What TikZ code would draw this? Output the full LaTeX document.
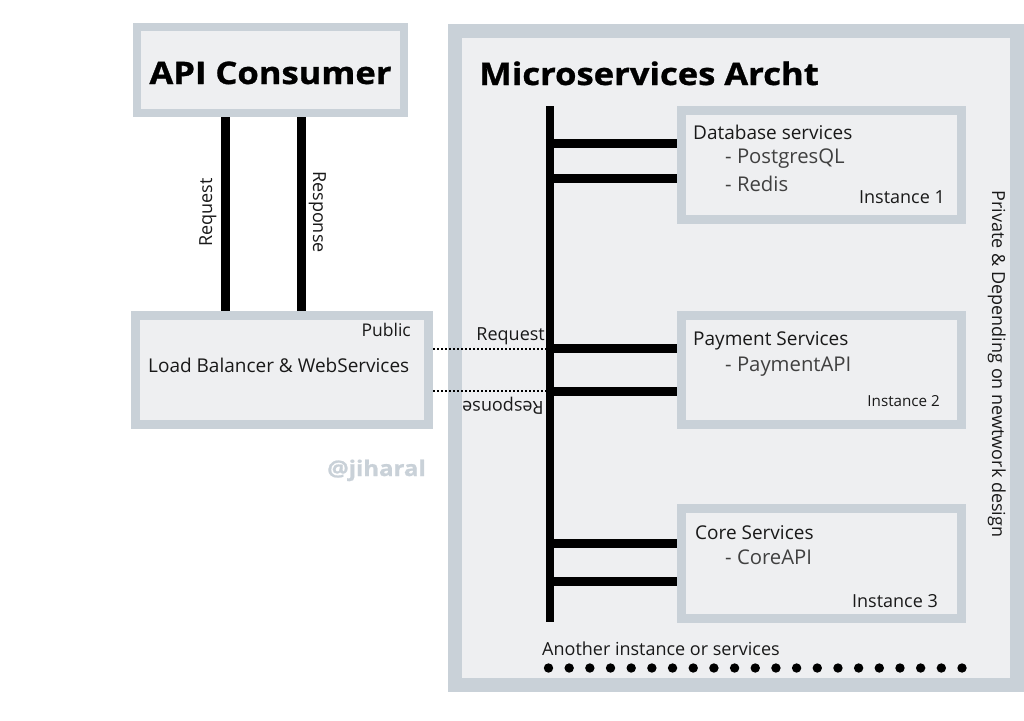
\documentclass[tikz,border=0pt]{standalone}
\usepackage{fontspec}
\setmainfont{Open Sans}
\newfontfamily\heavyfont[FakeStretch=1.115, FakeBold=1]{Open Sans}
\usetikzlibrary{calc}
\definecolor{boxedge}{RGB}{201,209,216}
\definecolor{boxfill}{RGB}{238,239,241}
\tikzset{
	box/.style={draw=boxedge, fill=boxfill, line width=9pt, inner sep=0pt, minimum width=280pt, minimum height=109pt},
	bar/.style={line width=9pt, color=black},
	wire/.style={line width=2pt, dash pattern=on 2pt off 2pt},
	ttl/.style={font=\fontsize{31}{31}\heavyfont\bfseries, inner sep=0pt},
	lbl/.style={font=\fontsize{18}{18}\selectfont, inner sep=0pt, text=black!90},
	head/.style={lbl, font=\fontsize{19}{19}\selectfont},
	item/.style={font=\fontsize{20.3}{20.3}\selectfont, inner sep=0pt, text=black!75},
}

\begin{document}
\begin{tikzpicture}[x=1pt, y=-1pt]
			%%%%% START %%%%%
			\useasboundingbox (0, 0) rectangle (1024, 720);
			
			\node[box, line width=14pt, minimum width=562pt, minimum height=654pt] (micro) at (736, 358) {};
			\node[box, line width=8pt, minimum width=267pt, minimum height=86pt] (consumer) at (270.5, 70) {};
			\node[box, minimum width=293pt] (lb) at (282, 370) {};
			
			\node[box] (db) at (821.5, 165) {};
			\node[box] (pay) at (821.5, 370) {};
			\node[box, minimum height=110pt] (core) at (821.5, 563.5) {};
			
			% titles
			\node[ttl, anchor=base] (consumerTtl) at (270.5, 84) {API Consumer};
			\node[ttl, anchor=base west] (microTtl) at (479, 85) {Microservices Archt};
			
			% consumer <-> load balancer
			\coordinate (req) at (225.5, 117);
			\coordinate (res) at (301.5, 117);
			\draw[bar] (req) -- (req |- lb.north);
			\draw[bar] (res) -- (res |- lb.north);
			\node[lbl, rotate=90, anchor=base] (reqTxt) at (212, 212.5) {Request};
			\node[lbl, rotate=-90, anchor=base] (resTxt) at (313, 212) {Response};
			
			\node[lbl, font=\fontsize{17.5}{17.5}\selectfont, anchor=base east] (pubTxt) at (411, 336.7) {Public};
			\node[head, anchor=base west] (lbTxt) at (148, 372.7) {Load Balancer \& WebServices};
			\node[font=\fontsize{21.5}{21.5}\heavyfont\bfseries, text=boxedge, inner sep=0pt, anchor=base] (sign) at (376.5, 476) {@jiharal};
			
			% bus
			\coordinate (busTop) at (550, 106);
			\coordinate (busBot) at (550, 622);
			\draw[line width=8pt] (busTop) -- (busBot);
			
			\coordinate (q) at (550, 349);
			\coordinate (r) at (550, 391);
			\draw[wire] (q -| lb.east) -- (q);
			\draw[wire] (r -| lb.east) -- (r);
			\node[lbl, anchor=base east] (qTxt) at (545, 340) {Request};
			\node[lbl, rotate=180, anchor=base] (rTxt) at (503, 401) {Response};
			
			% bus -> services
			\coordinate (b1) at (550, 143);
			\coordinate (b2) at (550, 178);
			\coordinate (b3) at (550, 348);
			\coordinate (b4) at (550, 391);
			\coordinate (b5) at (550, 543);
			\coordinate (b6) at (550, 581);
			\draw[bar] (b1) -- (b1 -| db.west);
			\draw[bar] (b2) -- (b2 -| db.west);
			\draw[bar] (b3) -- (b3 -| pay.west);
			\draw[bar] (b4) -- (b4 -| pay.west);
			\draw[bar] (b5) -- (b5 -| core.west);
			\draw[bar] (b6) -- (b6 -| core.west);
			
			\node[head, anchor=base west] (dbTxt) at (693, 139.3) {Database services};
			\node[item, anchor=base west] (dbA) at (725, 163.3) {- PostgresQL};
			\node[item, anchor=base west] (dbB) at (725, 191.7) {- Redis};
			\node[lbl, anchor=base east] (dbInst) at (945, 203.3) {Instance 1};
			
			\node[head, anchor=base west] (payTxt) at (693, 345.7) {Payment Services};
			\node[item, anchor=base west] (payA) at (725, 371) {- PaymentAPI};
			\node[lbl, font=\fontsize{15.2}{15.2}\selectfont, anchor=base east] (payInst) at (940, 406.7) {Instance 2};
			
			\node[head, anchor=base west] (coreTxt) at (695, 539.3) {Core Services};
			\node[item, anchor=base west] (coreA) at (725, 564) {- CoreAPI};
			\node[lbl, anchor=base east] (coreInst) at (938, 607.3) {Instance 3};
			
			\node[lbl, rotate=-90, anchor=base] (privTxt) at (992, 364) {Private \& Depending on newtwork design};
			
			% more instances
			\node[lbl, anchor=base west] (moreTxt) at (542, 655) {Another instance or services};
			\foreach \i in {0,...,20}
				\fill (548.5 + \i*20.675, 668) circle (4.7);
			
			%%%%% END %%%%%
		\end{tikzpicture}
\end{document}
